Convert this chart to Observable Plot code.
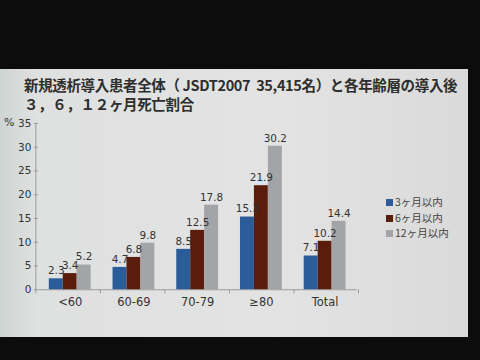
<!DOCTYPE html>
<html><head><meta charset="utf-8">
<script src="https://cdn.jsdelivr.net/npm/d3@7"></script>
<script src="https://cdn.jsdelivr.net/npm/@observablehq/plot@0.6"></script>
<style>
html,body{margin:0;padding:0;width:480px;height:360px;background:#0c0c0c;overflow:hidden;}
#slide{position:absolute;left:0;top:69px;width:468px;height:268px;background:linear-gradient(90deg,#cfd5d4 0%,#dfe1e0 8%,#e2e3e2 60%,#d9dad9 100%);}
#title{position:absolute;left:24px;top:6px;font-family:"Noto Sans CJK JP";font-weight:bold;font-size:14.5px;line-height:19px;color:#2e2e2e;white-space:nowrap;letter-spacing:-0.35px;}
#chart{position:absolute;left:0;top:46px;}
#pct{position:absolute;left:4px;top:47px;font-family:"DejaVu Sans";font-size:11px;color:#333;}
#legend{position:absolute;left:386px;top:125px;font-family:"Noto Sans CJK JP";font-size:10.5px;color:#444;line-height:15.5px;}
#legend span.sw{display:inline-block;width:7px;height:7px;margin-right:2px;vertical-align:0px;}
</style></head>
<body>
<div id="slide">
<div id="title">新規透析導入患者全体（ JSDT2007&nbsp; 35,415名）と各年齢層の導入後<br>３，６，１２ヶ月死亡割合</div>
<div id="pct">%</div>
<div id="chart"></div>
<div id="legend"></div>
</div>
<script>
const categories = ["<60", "60-69", "70-79", "≥80", "Total"];
const series = ["3ヶ月以内", "6ヶ月以内", "12ヶ月以内"];
const month3 = [2.3, 4.7, 8.5, 15.3, 7.1];
const month6 = [3.4, 6.8, 12.5, 21.9, 10.2];
const month12 = [5.2, 9.8, 17.8, 30.2, 14.4];
const colors = ["#2a5c9a", "#5a1d0c", "#a3a4a8"];
const yTicks = [0, 5, 10, 15, 20, 25, 30, 35];

const values = [month3, month6, month12];
const data = [];
categories.forEach((c, i) => series.forEach((s, j) => data.push({cat: c, s, v: values[j][i]})));

const chart = Plot.plot({
  width: 470, height: 200,
  marginTop: 8, marginBottom: 25, marginLeft: 36, marginRight: 110,
  style: {fontFamily: "DejaVu Sans", fontSize: "10.5px", color: "#333", background: "transparent"},
  fx: {domain: categories, padding: 0, label: null},
  x: {domain: series, axis: null, paddingInner: 0, paddingOuter: 0.65},
  y: {domain: [0, 35], ticks: yTicks, label: null},
  color: {domain: series, range: colors},
  marks: [
    Plot.axisFx({anchor: "bottom", tickSize: 0, tickPadding: 8, fontSize: 11.5, fill: "#333"}),
    Plot.axisY({ticks: yTicks, tickSize: 4, tickPadding: 3, stroke: "#999", fill: "#333", label: null}),
    Plot.ruleY([0], {stroke: "#999"}),
    Plot.barY(data, {fx: "cat", x: "s", y: "v", fill: "s"}),
    Plot.text(data, {fx: "cat", x: "s", y: "v", text: d => d.v.toFixed(1), dy: -8, fill: "#333", fontSize: 10.5})
  ]
});
document.getElementById("chart").appendChild(chart);

// y-axis line and group separator ticks, from the chart's own scales
const svg = d3.select(chart);
const fx = chart.scale("fx"), y = chart.scale("y");
const step = (fx.range[1] - fx.range[0]) / categories.length;
const x0 = fx.range[0];
const y0 = y.apply(0), yTop = y.apply(35);
svg.append("line").attr("x1", x0).attr("x2", x0).attr("y1", y0).attr("y2", yTop).attr("stroke", "#999");
d3.range(categories.length + 1).forEach(i => {
  const xx = x0 + i * step;
  svg.append("line").attr("x1", xx).attr("x2", xx).attr("y1", y0).attr("y2", y0 + 4).attr("stroke", "#999");
});

const lg = document.getElementById("legend");
series.forEach((s, j) => {
  const row = document.createElement("div");
  row.innerHTML = `<span class="sw" style="background:${colors[j]}"></span>${s}`;
  lg.appendChild(row);
});
</script>
</body></html>
